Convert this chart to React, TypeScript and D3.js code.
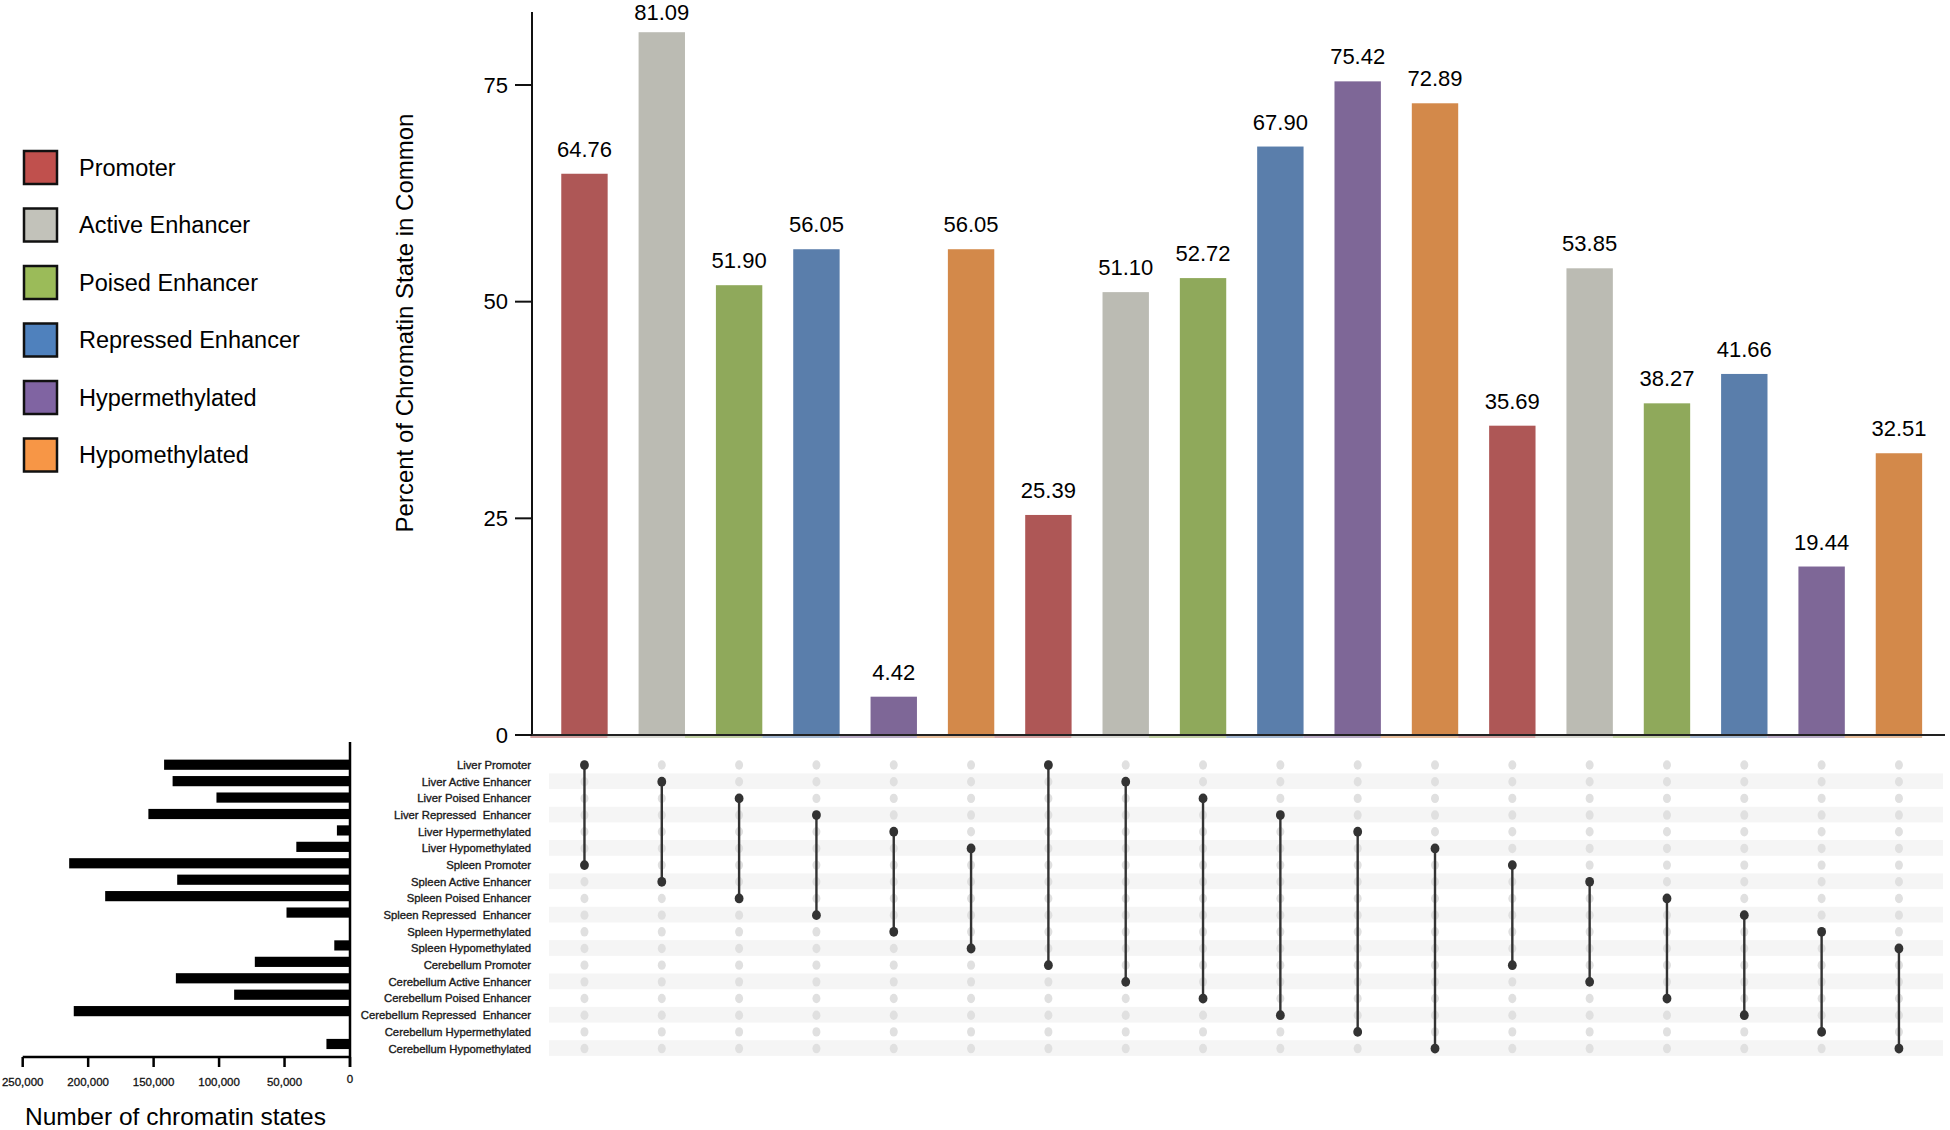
import React from "react";
import * as d3 from "d3";

const states = [
  "Promoter",
  "Active Enhancer",
  "Poised Enhancer",
  "Repressed Enhancer",
  "Hypermethylated",
  "Hypomethylated",
];
const barColors = ["#ae5756", "#bbbbb3", "#8fa95b", "#5a7eab", "#7e6797", "#d3894a"];
const legendColors = ["#c0504d", "#c2c2ba", "#9bbb59", "#4f81bd", "#8064a2", "#f79646"];

const rowLabels = [
  "Liver Promoter",
  "Liver Active Enhancer",
  "Liver Poised Enhancer",
  "Liver Repressed  Enhancer",
  "Liver Hypermethylated",
  "Liver Hypomethylated",
  "Spleen Promoter",
  "Spleen Active Enhancer",
  "Spleen Poised Enhancer",
  "Spleen Repressed  Enhancer",
  "Spleen Hypermethylated",
  "Spleen Hypomethylated",
  "Cerebellum Promoter",
  "Cerebellum Active Enhancer",
  "Cerebellum Poised Enhancer",
  "Cerebellum Repressed  Enhancer",
  "Cerebellum Hypermethylated",
  "Cerebellum Hypomethylated",
];

// number of chromatin states per set (left bars)
const setSizes = [
  142000, 135500, 102000, 154000, 10000, 41000,
  214500, 132000, 187000, 48500, 0, 12000,
  72700, 133000, 88500, 211000, 0, 18000,
];

// intersections: [rowA, rowB], percent in common, state index for colour
const pairs: [number, number][] = [
  [0, 6], [1, 7], [2, 8], [3, 9], [4, 10], [5, 11],
  [0, 12], [1, 13], [2, 14], [3, 15], [4, 16], [5, 17],
  [6, 12], [7, 13], [8, 14], [9, 15], [10, 16], [11, 17],
];
const percents = [
  64.76, 81.09, 51.9, 56.05, 4.42, 56.05,
  25.39, 51.1, 52.72, 67.9, 75.42, 72.89,
  35.69, 53.85, 38.27, 41.66, 19.44, 32.51,
];
const pairState = [0, 1, 2, 3, 4, 5, 0, 1, 2, 3, 4, 5, 0, 1, 2, 3, 4, 5];

const yTicks = [0, 25, 50, 75];
const countTicks = [0, 50000, 100000, 150000, 200000, 250000];

const font = "'Liberation Sans', Arial, sans-serif";

const App: React.FC = () => {
  const width = 1950;
  const height = 1130;

  const x = d3
    .scaleBand<number>()
    .domain(d3.range(pairs.length))
    .range([545.8, 1937.6])
    .paddingInner(0.4)
    .paddingOuter(0.2);
  const cx = (i: number) => (x(i) ?? 0) + x.bandwidth() / 2;

  const y = d3.scaleLinear().domain([0, 75]).range([735, 85]);

  const row = d3.scaleBand<number>().domain(d3.range(rowLabels.length)).range([756.7, 1056.9]);
  const ry = (i: number) => (row(i) ?? 0) + row.bandwidth() / 2;

  const setRow = d3
    .scaleBand<number>()
    .domain(d3.range(rowLabels.length))
    .range([756.5, 1052.2])
    .paddingInner(0.38)
    .paddingOuter(0.19);

  const cnt = d3.scaleLinear().domain([0, 250000]).range([350, 22.7]);
  const fmt = d3.format(",");

  return (
    <svg
      width={width}
      height={height}
      style={{ position: "absolute", left: 0, top: 0, background: "#fff" }}
      fontFamily={font}
    >
      {/* legend */}
      {states.map((s, i) => (
        <g key={s} transform={`translate(0,${167.5 + i * 57.5})`}>
          <rect x={24} y={-16.5} width={33} height={33} fill={legendColors[i]} stroke="#111" strokeWidth={2.5} />
          <text x={79} dy="0.35em" fontSize={23.5} fill="#000">
            {s}
          </text>
        </g>
      ))}

      {/* y axis */}
      <line x1={532} x2={532} y1={12} y2={735} stroke="#111" strokeWidth={2} />
      {yTicks.map((t) => (
        <g key={t}>
          <line x1={515} x2={532} y1={y(t)} y2={y(t)} stroke="#111" strokeWidth={2} />
          <text x={508} y={y(t)} dy="0.35em" textAnchor="end" fontSize={22} fill="#000">
            {t}
          </text>
        </g>
      ))}
      <text
        transform="translate(405,323) rotate(-90)"
        textAnchor="middle"
        dy="0.35em"
        fontSize={24}
        fill="#000"
      >
        Percent of Chromatin State in Common
      </text>

      {/* bars */}
      {percents.map((v, i) => (
        <g key={i}>
          <rect
            x={x(i)}
            y={y(v)}
            width={x.bandwidth()}
            height={y(0) - y(v)}
            fill={barColors[pairState[i]]}
          />
          <rect
            x={(x(i) ?? 0) - x.step() * 0.4}
            y={736}
            width={x.step()}
            height={2}
            fill={barColors[pairState[i]]}
            opacity={0.55}
          />
          <text x={cx(i)} y={Math.max(y(v) - 17, 20)} textAnchor="middle" fontSize={22} fill="#000">
            {v.toFixed(2)}
          </text>
        </g>
      ))}
      <line x1={532} x2={1945} y1={735} y2={735} stroke="#222" strokeWidth={2} />

      {/* matrix stripes */}
      {rowLabels.map((_, r) =>
        r % 2 === 1 ? (
          <rect key={r} x={549} y={row(r)} width={1394} height={row.bandwidth() - 1} fill="#f5f5f5" />
        ) : null
      )}
      {rowLabels.map((lab, r) => (
        <text
          key={lab}
          x={531}
          y={ry(r)}
          dy="0.35em"
          textAnchor="end"
          fontSize={11.3}
          fill="#1a1a1a"
          stroke="#1a1a1a"
          strokeWidth={0.35}
          style={{ whiteSpace: "pre" }}
        >
          {lab}
        </text>
      ))}
      {pairs.map((_, c) =>
        rowLabels.map((__, r) => (
          <ellipse key={`${c}-${r}`} cx={cx(c)} cy={ry(r)} rx={4} ry={4.7} fill="#e0e0e0" />
        ))
      )}
      {pairs.map(([a, b], c) => (
        <g key={c}>
          <line x1={cx(c)} x2={cx(c)} y1={ry(a)} y2={ry(b)} stroke="#333" strokeWidth={2.4} />
          <ellipse cx={cx(c)} cy={ry(a)} rx={4.4} ry={4.9} fill="#333" />
          <ellipse cx={cx(c)} cy={ry(b)} rx={4.4} ry={4.9} fill="#333" />
        </g>
      ))}

      {/* set size bars */}
      {setSizes.map((v, i) =>
        v > 0 ? (
          <rect
            key={i}
            x={cnt(v)}
            y={setRow(i)}
            width={cnt(0) - cnt(v)}
            height={setRow.bandwidth()}
            fill="#000"
          />
        ) : null
      )}
      <line x1={350} x2={350} y1={742} y2={1067} stroke="#000" strokeWidth={2.5} />
      <line x1={22.7} x2={350} y1={1057} y2={1057} stroke="#000" strokeWidth={2.5} />
      {countTicks.map((t) => (
        <g key={t}>
          <line x1={cnt(t)} x2={cnt(t)} y1={1057} y2={1067} stroke="#000" strokeWidth={2.5} />
          <text
            x={cnt(t)}
            y={t === 0 ? 1079 : 1082}
            dy="0.35em"
            textAnchor="middle"
            fontSize={11.5}
            fill="#111"
            stroke="#111"
            strokeWidth={0.3}
          >
            {fmt(t)}
          </text>
        </g>
      ))}
      <text x={25} y={1125} fontSize={24.5} fill="#000">
        Number of chromatin states
      </text>
    </svg>
  );
};

export default App;
